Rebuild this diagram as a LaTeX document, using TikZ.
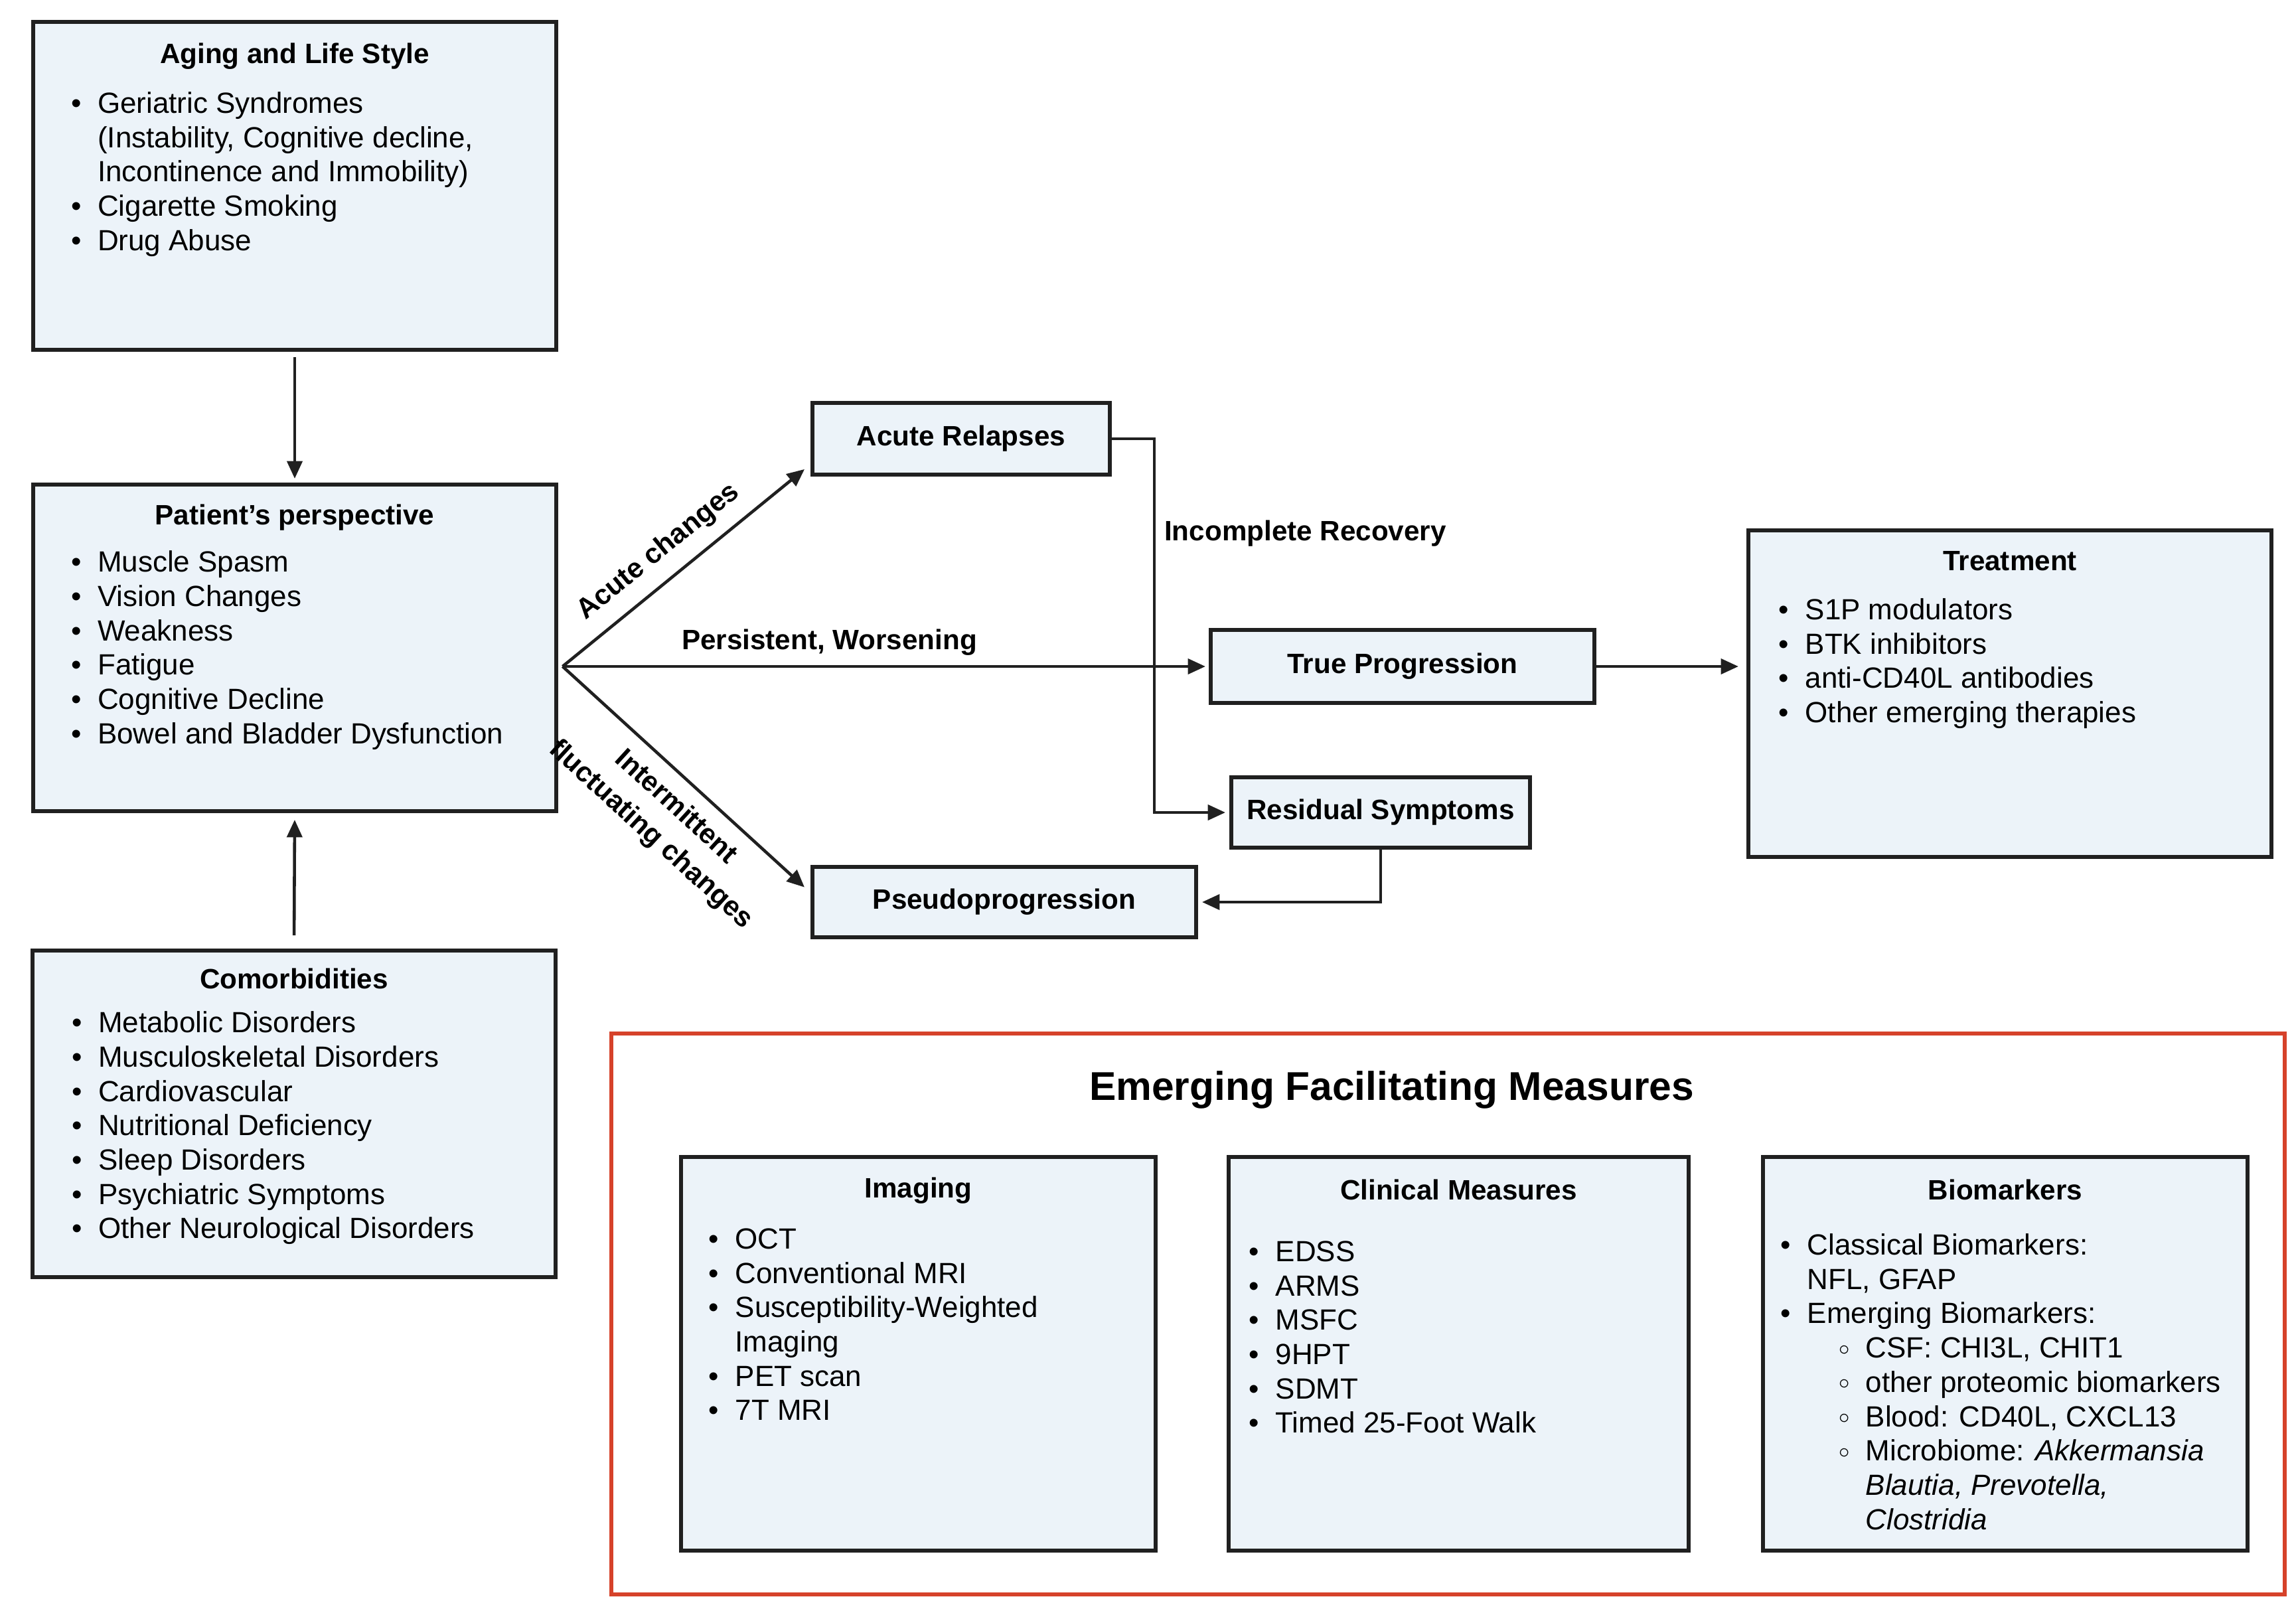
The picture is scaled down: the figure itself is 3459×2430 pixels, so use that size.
\documentclass[tikz,border=0pt]{standalone}
\usepackage{fontspec}
\setmainfont{Liberation Sans}
\usepackage{xcolor}
\definecolor{boxfill}{RGB}{236,243,249}
\definecolor{boxline}{RGB}{32,32,32}
\definecolor{framered}{RGB}{214,66,42}
\usetikzlibrary{arrows.meta, positioning, calc}
\newcommand{\bul}{\makebox[0.4cm][l]{\textbullet}}
\newcommand{\ind}{\hspace*{0.4cm}}
\newcommand{\sbul}{\hspace*{0.88cm}\makebox[0.4cm][l]{\raisebox{0.2ex}{\small$\circ$}}}
\newcommand{\sind}{\hspace*{1.28cm}}

\begin{document}
\begin{tikzpicture}[
  x=0.01cm, y=-0.01cm,
  >={Triangle[length=7.5pt, width=6.5pt]},
  infobox/.style={
    rectangle, draw=boxline, line width=1.6pt, fill=boxfill, inner sep=0pt
  },
  statebox/.style={
    infobox, font=\fontsize{12}{14}\selectfont\bfseries
  },
  boxtitle/.style={font=\fontsize{12}{14}\selectfont\bfseries, inner sep=0pt},
  listtext/.style={
    anchor=north west, align=left, inner sep=0pt,
    font=\fontsize{12.5}{14.7}\selectfont
  },
  flow/.style={->, line width=1.3pt, draw=boxline},
  lab/.style={font=\fontsize{12}{16}\selectfont\bfseries, inner sep=0pt, align=center}
]
\fill[white] (0,0) rectangle (3459,2430);
\useasboundingbox (0,0) rectangle (3459,2430);

% left column
\node[infobox, minimum width=7.87cm, minimum height=4.94cm] (aging) at (444,280) {};
\node[boxtitle] (agingtitle) at ($(aging.north)+(0,55)$) {Aging and Life Style};
\node[listtext] (aginglist) at ($(aging.north west)+(59,108)$) {%
  \bul Geriatric Syndromes\\
  \ind (Instability, Cognitive decline,\\
  \ind Incontinence and Immobility)\\
  \bul Cigarette Smoking\\
  \bul Drug Abuse};

\node[infobox, minimum width=7.87cm, minimum height=4.92cm] (patient) at (444,976) {};
\node[boxtitle] (patienttitle) at ($(patient.north)+(0,53)$) {Patient's perspective};
\node[listtext] (patientlist) at ($(patient.north west)+(59,102)$) {%
  \bul Muscle Spasm\\
  \bul Vision Changes\\
  \bul Weakness\\
  \bul Fatigue\\
  \bul Cognitive Decline\\
  \bul Bowel and Bladder Dysfunction};

\node[infobox, minimum width=7.87cm, minimum height=4.92cm] (comorb) at (443,1678) {};
\node[boxtitle] (comorbtitle) at ($(comorb.north)+(0,45)$) {Comorbidities};
\node[listtext] (comorblist) at ($(comorb.north west)+(61,94)$) {%
  \bul Metabolic Disorders\\
  \bul Musculoskeletal Disorders\\
  \bul Cardiovascular\\
  \bul Nutritional Deficiency\\
  \bul Sleep Disorders\\
  \bul Psychiatric Symptoms\\
  \bul Other Neurological Disorders};

% course of symptoms
\node[statebox, minimum width=4.48cm, minimum height=1.08cm] (acute) at (1448,661) {Acute Relapses};
\node[statebox, minimum width=5.78cm, minimum height=1.10cm] (trueprog) at (2113,1004) {True Progression};
\node[statebox, minimum width=4.50cm, minimum height=1.06cm] (residual) at (2080,1224) {Residual Symptoms};
\node[statebox, minimum width=5.78cm, minimum height=1.06cm] (pseudo) at (1513,1359) {Pseudoprogression};

\node[infobox, minimum width=7.88cm, minimum height=4.92cm] (treatment) at (3028,1045) {};
\node[boxtitle] (treattitle) at ($(treatment.north)+(0,49)$) {Treatment};
\node[listtext] (treatlist) at ($(treatment.north west)+(48,105)$) {%
  \bul S1P modulators\\
  \bul BTK inhibitors\\
  \bul anti-CD40L antibodies\\
  \bul Other emerging therapies};

% emerging measures
\node[rectangle, draw=framered, line width=1.6pt, minimum width=25.19cm, minimum height=8.45cm, inner sep=0pt] (emerging) at (2181.5,1979.5) {};
\node[font=\fontsize{17.2}{20}\selectfont\bfseries, inner sep=0pt] (emergingtitle) at ($(emerging.north)+(-85,88)$) {Emerging Facilitating Measures};

\node[infobox, minimum width=7.15cm, minimum height=5.93cm] (imaging) at (1383.5,2039.5) {};
\node[boxtitle] (imagingtitle) at ($(imaging.north)+(0,54)$) {Imaging};
\node[listtext] (imaginglist) at ($(imaging.north west)+(44,110)$) {%
  \bul OCT\\
  \bul Conventional MRI\\
  \bul Susceptibility-Weighted\\
  \ind Imaging\\
  \bul PET scan\\
  \bul 7T MRI};

\node[infobox, minimum width=6.93cm, minimum height=5.93cm] (clinical) at (2197.5,2039.5) {};
\node[boxtitle] (clinicaltitle) at ($(clinical.north)+(0,52)$) {Clinical Measures};
\node[listtext] (clinicallist) at ($(clinical.north west)+(33,129)$) {%
  \bul EDSS\\
  \bul ARMS\\
  \bul MSFC\\
  \bul 9HPT\\
  \bul SDMT\\
  \bul Timed 25-Foot Walk};

\node[infobox, minimum width=7.30cm, minimum height=5.93cm] (biomark) at (3021,2039.5) {};
\node[boxtitle] (biomarktitle) at ($(biomark.north)+(0,52)$) {Biomarkers};
\node[listtext] (biomarklist) at ($(biomark.north west)+(29,118)$) {%
  \bul Classical Biomarkers:\\
  \ind NFL, GFAP\\
  \bul Emerging Biomarkers:\\
  \sbul CSF: CHI3L, CHIT1\\
  \sbul other proteomic biomarkers\\
  \sbul Blood: CD40L, CXCL13\\
  \sbul Microbiome: \textit{Akkermansia}\\
  \sind \textit{Blautia, Prevotella,}\\
  \sind \textit{Clostridia}};

% connectors
\draw[flow, shorten <=0.08cm, shorten >=0.06cm] (aging.south) -- (patient.north);
\draw[flow, shorten <=0.2cm, shorten >=0.1cm] (comorb.north) -- (patient.south);

\coordinate (fan) at ($(patient.east |- trueprog.west)+(7,0)$);
\draw[flow] (fan) -- ([shift={(-9,-11)}]acute.south west)
  node[pos=0.47, sloped, above=0.2cm, lab] {Acute changes};
\draw[flow] (fan) -- ([xshift=-0.05cm]trueprog.west)
  node[pos=0.415, above=0.14cm, lab] {Persistent, Worsening};
\draw[flow] (fan) -- ([shift={(-9,0)}]$(pseudo.north west)!0.3!(pseudo.south west)$)
  node[pos=0.545, sloped, below=0.2cm, lab] {Intermittent\\fluctuating changes};

\draw[flow] (acute.east) -- ++(64,0) |- ([xshift=-0.06cm]residual.west)
  node[pos=0.127, right=0.13cm, lab] {Incomplete Recovery};
\draw[flow] (residual.south) |- ([xshift=0.06cm]pseudo.east);
\draw[flow] (trueprog.east) -- ([xshift=-0.12cm]trueprog.east -| treatment.west);
\end{tikzpicture}
\end{document}
